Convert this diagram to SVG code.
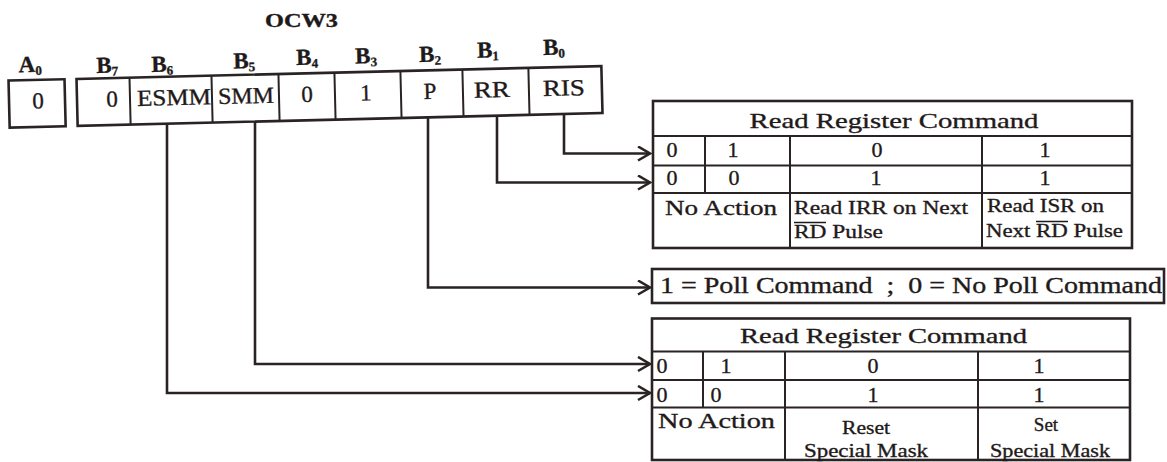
<svg xmlns="http://www.w3.org/2000/svg" width="1167" height="462" viewBox="0 0 1167 462">
<style>
.ln{fill:none;stroke:#2a2323;stroke-width:2.6}
.in{fill:none;stroke:#2a2323;stroke-width:2}
.ovl{fill:none;stroke:#1f1a1a;stroke-width:1.5}
.t{font-family:"Liberation Serif","Times New Roman",serif;fill:#1f1a1a;stroke:#1f1a1a;stroke-width:0.35}
.c{text-anchor:middle}
.cell{font-size:23px}
.dg{font-size:22px}
.ds{font-size:19px}
.lbl{font-size:23px;font-weight:bold}
.sub{font-size:13px}
.conn{fill:none;stroke:#2a2323;stroke-width:2.6;marker-end:url(#arr)}
</style>
<defs>
<marker id="arr" markerUnits="userSpaceOnUse" markerWidth="18" markerHeight="18" refX="13" refY="8" orient="auto">
<path d="M1,1 L13,8 L1,15" fill="none" stroke="#2a2323" stroke-width="2.6"/>
</marker>
</defs>
<rect width="1167" height="462" fill="#ffffff"/>

<g id="title">
<text class="t" x="265" y="27" font-size="19" font-weight="bold" textLength="73" lengthAdjust="spacingAndGlyphs">OCW3</text>
</g>

<g transform="rotate(-1.4 340 96)">
<g id="a0-box">
<text class="t lbl c" x="31" y="64.5">A<tspan class="sub" dy="3">0</tspan></text>
<rect class="ln" x="9" y="72.5" width="56" height="47"/>
<text class="t cell c" x="38" y="101">0</text>
</g>
<g id="ocw3-register">
<text class="t lbl c" x="108" y="67">B<tspan class="sub" dy="3">7</tspan></text>
<text class="t lbl c" x="163" y="67.5">B<tspan class="sub" dy="3">6</tspan></text>
<text class="t lbl c" x="245" y="66">B<tspan class="sub" dy="3">5</tspan></text>
<text class="t lbl c" x="308" y="64">B<tspan class="sub" dy="3">4</tspan></text>
<text class="t lbl c" x="367" y="64">B<tspan class="sub" dy="3">3</tspan></text>
<text class="t lbl c" x="431" y="64">B<tspan class="sub" dy="3">2</tspan></text>
<text class="t lbl c" x="489" y="61">B<tspan class="sub" dy="3">1</tspan></text>
<text class="t lbl c" x="555" y="60">B<tspan class="sub" dy="3">0</tspan></text>
<rect class="ln" x="77" y="72.5" width="525" height="47"/>
<path class="in" d="M130,72.5V119.5M212,72.5V119.5M279,72.5V119.5M335,72.5V119.5M401,72.5V119.5M463,72.5V119.5M529,72.5V119.5"/>
<text class="t cell c" x="112" y="101">0</text>
<text class="t cell" x="137" y="101" textLength="74" lengthAdjust="spacingAndGlyphs">ESMM</text>
<text class="t cell" x="218" y="101" textLength="56" lengthAdjust="spacingAndGlyphs">SMM</text>
<text class="t cell c" x="307" y="101">0</text>
<text class="t cell c" x="366" y="101">1</text>
<text class="t cell c" x="430" y="101">P</text>
<text class="t cell" x="474" y="101" textLength="36" lengthAdjust="spacingAndGlyphs">RR</text>
<text class="t cell" x="543" y="101" textLength="42" lengthAdjust="spacingAndGlyphs">RIS</text>
</g>
</g>

<g id="connectors">
<path class="conn" d="M564,113 V153.5 H650"/>
<path class="conn" d="M497,115 V182.5 H650"/>
<path class="conn" d="M428,117 V287.5 H650"/>
<path class="conn" d="M255,121 V364 H650"/>
<path class="conn" d="M167,123 V393 H650"/>
</g>

<g id="read-register-table">
<rect class="ln" x="653" y="101" width="479" height="147"/>
<path class="in" d="M653,136H1132M653,165.5H1132M653,193H1132M705,136V193M790,136V248M982,136V248"/>
<text class="t dg" x="749.5" y="128" textLength="289" lengthAdjust="spacingAndGlyphs">Read Register Command</text>
<text class="t dg c" x="672" y="157">0</text>
<text class="t dg c" x="733" y="157">1</text>
<text class="t dg c" x="877" y="157">0</text>
<text class="t dg c" x="1045" y="157">1</text>
<text class="t dg c" x="672" y="185">0</text>
<text class="t dg c" x="734" y="185">0</text>
<text class="t dg c" x="876" y="185">1</text>
<text class="t dg c" x="1045" y="185">1</text>
<text class="t dg" x="665" y="215" textLength="112" lengthAdjust="spacingAndGlyphs">No Action</text>
<text class="t ds" x="794" y="214" textLength="174" lengthAdjust="spacingAndGlyphs">Read IRR on Next</text>
<text class="t ds" x="794" y="238" textLength="89" lengthAdjust="spacingAndGlyphs">RD Pulse</text>
<path class="ovl" d="M794,222.5H826"/>
<text class="t ds" x="987" y="212" textLength="117" lengthAdjust="spacingAndGlyphs">Read ISR on</text>
<text class="t ds" x="986" y="237" textLength="137" lengthAdjust="spacingAndGlyphs">Next RD Pulse</text>
<path class="ovl" d="M1036,221.5H1068"/>
</g>

<g id="poll-box">
<rect class="ln" x="652" y="269" width="512" height="34"/>
<text class="t" x="660" y="293" font-size="23" xml:space="preserve" textLength="502" lengthAdjust="spacingAndGlyphs">1 = Poll Command  ;  0 = No Poll Command</text>
</g>

<g id="special-mask-table">
<rect class="ln" x="652" y="318.5" width="478" height="141.5"/>
<path class="in" d="M652,351.5H1130M652,380H1130M652,407.5H1130M703,351.5V407.5M785,351.5V460M978,351.5V460"/>
<text class="t dg" x="740" y="342.5" textLength="287" lengthAdjust="spacingAndGlyphs">Read Register Command</text>
<text class="t dg c" x="662" y="372.5">0</text>
<text class="t dg c" x="726" y="372.5">1</text>
<text class="t dg c" x="873" y="372.5">0</text>
<text class="t dg c" x="1039" y="372.5">1</text>
<text class="t dg c" x="662" y="402">0</text>
<text class="t dg c" x="716" y="402">0</text>
<text class="t dg c" x="873" y="402">1</text>
<text class="t dg c" x="1039" y="402">1</text>
<text class="t dg" x="658" y="428" textLength="117" lengthAdjust="spacingAndGlyphs">No Action</text>
<text class="t ds" x="842" y="434" font-size="20" textLength="48" lengthAdjust="spacingAndGlyphs">Reset</text>
<text class="t ds" x="804" y="457" font-size="20" textLength="124" lengthAdjust="spacingAndGlyphs">Special Mask</text>
<text class="t ds c" x="1046" y="431" font-size="20">Set</text>
<text class="t ds" x="990" y="457" font-size="20" textLength="120" lengthAdjust="spacingAndGlyphs">Special Mask</text>
</g>
</svg>
